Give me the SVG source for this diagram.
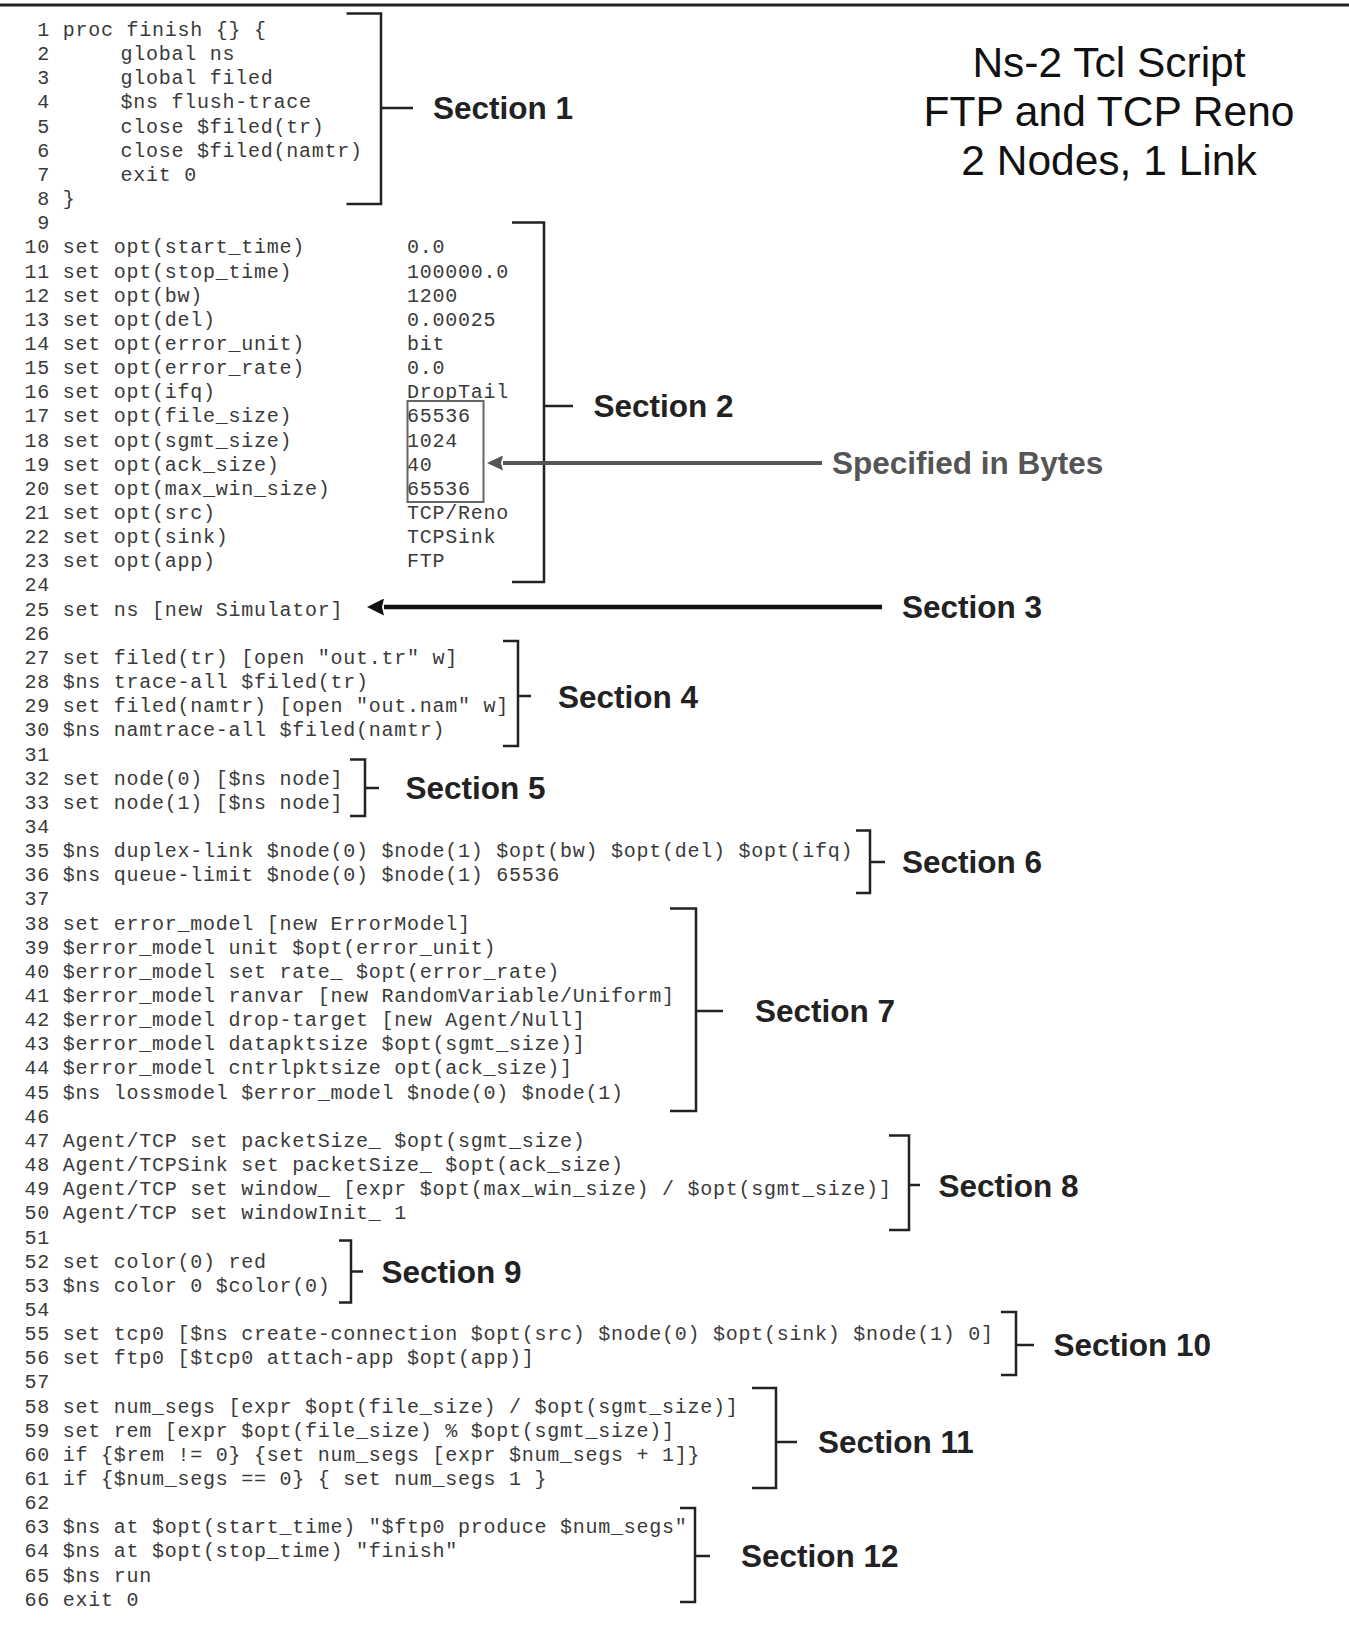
<svg xmlns="http://www.w3.org/2000/svg" width="1349" height="1631" viewBox="0 0 1349 1631">
<style>
.code{font-family:"Liberation Mono","Courier New",monospace;font-size:20px;letter-spacing:0.75px;fill:#3a3a3a}
.sec{font-family:"Liberation Sans",Arial,sans-serif;font-weight:bold;font-size:31.5px;fill:#222}
.title{font-family:"Liberation Sans",Arial,sans-serif;font-size:42.5px;fill:#111;text-anchor:middle}
.br{fill:none;stroke:#222;stroke-width:2.5}
</style>
<defs>
<marker id="headBlack" markerUnits="userSpaceOnUse" viewBox="0 0 17 17" refX="0" refY="8.5" markerWidth="17" markerHeight="17" orient="auto">
<path d="M0,0 L17,8.5 L0,17 L2,8.5 Z" fill="#111"/>
</marker>
<marker id="headGray" markerUnits="userSpaceOnUse" viewBox="0 0 16 15" refX="0" refY="7.5" markerWidth="16" markerHeight="15" orient="auto">
<path d="M0,0 L16,7.5 L0,15 L2,7.5 Z" fill="#555"/>
</marker>
</defs>
<rect width="1349" height="1631" fill="#fff"/>
<line x1="0" y1="5" x2="1349" y2="5" stroke="#222" stroke-width="3"/>

<g id="title">
<text class="title" x="1109" y="77">Ns-2 Tcl Script</text>
<text class="title" x="1109" y="126">FTP and TCP Reno</text>
<text class="title" x="1109" y="175">2 Nodes, 1 Link</text>
</g>

<g id="code" class="code">
<text x="37.25" y="36">1</text><text x="62.75" y="36">proc finish {} {</text>
<text x="37.25" y="60.15">2</text><text x="120.5" y="60.15">global ns</text>
<text x="37.25" y="84.3">3</text><text x="120.5" y="84.3">global filed</text>
<text x="37.25" y="108.45">4</text><text x="120.5" y="108.45">$ns flush-trace</text>
<text x="37.25" y="132.6">5</text><text x="120.5" y="132.6">close $filed(tr)</text>
<text x="37.25" y="156.75">6</text><text x="120.5" y="156.75">close $filed(namtr)</text>
<text x="37.25" y="180.9">7</text><text x="120.5" y="180.9">exit 0</text>
<text x="37.25" y="205.05">8</text><text x="62.75" y="205.05">}</text>
<text x="37.25" y="229.2">9</text>
<text x="24.5" y="253.35">10</text><text x="62.75" y="253.35">set opt(start_time)</text><text x="407" y="253.35">0.0</text>
<text x="24.5" y="277.5">11</text><text x="62.75" y="277.5">set opt(stop_time)</text><text x="407" y="277.5">100000.0</text>
<text x="24.5" y="301.65">12</text><text x="62.75" y="301.65">set opt(bw)</text><text x="407" y="301.65">1200</text>
<text x="24.5" y="325.8">13</text><text x="62.75" y="325.8">set opt(del)</text><text x="407" y="325.8">0.00025</text>
<text x="24.5" y="349.95">14</text><text x="62.75" y="349.95">set opt(error_unit)</text><text x="407" y="349.95">bit</text>
<text x="24.5" y="374.1">15</text><text x="62.75" y="374.1">set opt(error_rate)</text><text x="407" y="374.1">0.0</text>
<text x="24.5" y="398.25">16</text><text x="62.75" y="398.25">set opt(ifq)</text><text x="407" y="398.25">DropTail</text>
<text x="24.5" y="422.4">17</text><text x="62.75" y="422.4">set opt(file_size)</text><text x="407" y="422.4">65536</text>
<text x="24.5" y="446.55">18</text><text x="62.75" y="446.55">set opt(sgmt_size)</text><text x="407" y="446.55">1024</text>
<text x="24.5" y="470.7">19</text><text x="62.75" y="470.7">set opt(ack_size)</text><text x="407" y="470.7">40</text>
<text x="24.5" y="494.85">20</text><text x="62.75" y="494.85">set opt(max_win_size)</text><text x="407" y="494.85">65536</text>
<text x="24.5" y="519">21</text><text x="62.75" y="519">set opt(src)</text><text x="407" y="519">TCP/Reno</text>
<text x="24.5" y="543.15">22</text><text x="62.75" y="543.15">set opt(sink)</text><text x="407" y="543.15">TCPSink</text>
<text x="24.5" y="567.3">23</text><text x="62.75" y="567.3">set opt(app)</text><text x="407" y="567.3">FTP</text>
<text x="24.5" y="591.45">24</text>
<text x="24.5" y="615.6">25</text><text x="62.75" y="615.6">set ns [new Simulator]</text>
<text x="24.5" y="639.75">26</text>
<text x="24.5" y="663.9">27</text><text x="62.75" y="663.9">set filed(tr) [open "out.tr" w]</text>
<text x="24.5" y="688.05">28</text><text x="62.75" y="688.05">$ns trace-all $filed(tr)</text>
<text x="24.5" y="712.2">29</text><text x="62.75" y="712.2">set filed(namtr) [open "out.nam" w]</text>
<text x="24.5" y="736.35">30</text><text x="62.75" y="736.35">$ns namtrace-all $filed(namtr)</text>
<text x="24.5" y="760.5">31</text>
<text x="24.5" y="784.65">32</text><text x="62.75" y="784.65">set node(0) [$ns node]</text>
<text x="24.5" y="808.8">33</text><text x="62.75" y="808.8">set node(1) [$ns node]</text>
<text x="24.5" y="832.95">34</text>
<text x="24.5" y="857.1">35</text><text x="62.75" y="857.1">$ns duplex-link $node(0) $node(1) $opt(bw) $opt(del) $opt(ifq)</text>
<text x="24.5" y="881.25">36</text><text x="62.75" y="881.25">$ns queue-limit $node(0) $node(1) 65536</text>
<text x="24.5" y="905.4">37</text>
<text x="24.5" y="929.55">38</text><text x="62.75" y="929.55">set error_model [new ErrorModel]</text>
<text x="24.5" y="953.7">39</text><text x="62.75" y="953.7">$error_model unit $opt(error_unit)</text>
<text x="24.5" y="977.85">40</text><text x="62.75" y="977.85">$error_model set rate_ $opt(error_rate)</text>
<text x="24.5" y="1002">41</text><text x="62.75" y="1002">$error_model ranvar [new RandomVariable/Uniform]</text>
<text x="24.5" y="1026.15">42</text><text x="62.75" y="1026.15">$error_model drop-target [new Agent/Null]</text>
<text x="24.5" y="1050.3">43</text><text x="62.75" y="1050.3">$error_model datapktsize $opt(sgmt_size)]</text>
<text x="24.5" y="1074.45">44</text><text x="62.75" y="1074.45">$error_model cntrlpktsize opt(ack_size)]</text>
<text x="24.5" y="1098.6">45</text><text x="62.75" y="1098.6">$ns lossmodel $error_model $node(0) $node(1)</text>
<text x="24.5" y="1122.75">46</text>
<text x="24.5" y="1146.9">47</text><text x="62.75" y="1146.9">Agent/TCP set packetSize_ $opt(sgmt_size)</text>
<text x="24.5" y="1171.05">48</text><text x="62.75" y="1171.05">Agent/TCPSink set packetSize_ $opt(ack_size)</text>
<text x="24.5" y="1195.2">49</text><text x="62.75" y="1195.2">Agent/TCP set window_ [expr $opt(max_win_size) / $opt(sgmt_size)]</text>
<text x="24.5" y="1219.35">50</text><text x="62.75" y="1219.35">Agent/TCP set windowInit_ 1</text>
<text x="24.5" y="1243.5">51</text>
<text x="24.5" y="1267.65">52</text><text x="62.75" y="1267.65">set color(0) red</text>
<text x="24.5" y="1291.8">53</text><text x="62.75" y="1291.8">$ns color 0 $color(0)</text>
<text x="24.5" y="1315.95">54</text>
<text x="24.5" y="1340.1">55</text><text x="62.75" y="1340.1">set tcp0 [$ns create-connection $opt(src) $node(0) $opt(sink) $node(1) 0]</text>
<text x="24.5" y="1364.25">56</text><text x="62.75" y="1364.25">set ftp0 [$tcp0 attach-app $opt(app)]</text>
<text x="24.5" y="1388.4">57</text>
<text x="24.5" y="1412.55">58</text><text x="62.75" y="1412.55">set num_segs [expr $opt(file_size) / $opt(sgmt_size)]</text>
<text x="24.5" y="1436.7">59</text><text x="62.75" y="1436.7">set rem [expr $opt(file_size) % $opt(sgmt_size)]</text>
<text x="24.5" y="1460.85">60</text><text x="62.75" y="1460.85">if {$rem != 0} {set num_segs [expr $num_segs + 1]}</text>
<text x="24.5" y="1485">61</text><text x="62.75" y="1485">if {$num_segs == 0} { set num_segs 1 }</text>
<text x="24.5" y="1509.15">62</text>
<text x="24.5" y="1533.3">63</text><text x="62.75" y="1533.3">$ns at $opt(start_time) "$ftp0 produce $num_segs"</text>
<text x="24.5" y="1557.45">64</text><text x="62.75" y="1557.45">$ns at $opt(stop_time) "finish"</text>
<text x="24.5" y="1581.6">65</text><text x="62.75" y="1581.6">$ns run</text>
<text x="24.5" y="1605.75">66</text><text x="62.75" y="1605.75">exit 0</text>
</g>

<g id="bytes-box">
<rect x="407.5" y="401" width="76" height="101" fill="none" stroke="#666" stroke-width="2"/>
</g>

<g id="section1">
<path class="br" d="M346.5,13.5 H381 V204 H346.5 M381,108 H413"/>
<text class="sec" x="433" y="119">Section 1</text>
</g>
<g id="section2">
<path class="br" d="M512,222.5 H544 V582 H512 M544,406 H573"/>
<text class="sec" x="593.5" y="417">Section 2</text>
</g>
<g id="section3">
<text class="sec" x="902" y="618">Section 3</text>
</g>
<g id="specified">
<text class="sec" x="832" y="474" style="fill:#555">Specified in Bytes</text>
</g>
<g id="section4">
<path class="br" d="M503,641 H518 V746 H503 M518,696 H531"/>
<text class="sec" x="558" y="707.5">Section 4</text>
</g>
<g id="section5">
<path class="br" d="M350,759.5 H365 V816 H350 M365,788 H379"/>
<text class="sec" x="405.5" y="799">Section 5</text>
</g>
<g id="section6">
<path class="br" d="M856,830.5 H870 V893 H856 M870,862 H885"/>
<text class="sec" x="902" y="873">Section 6</text>
</g>
<g id="section7">
<path class="br" d="M670,908.5 H696 V1111 H670 M696,1011 H723"/>
<text class="sec" x="755" y="1022">Section 7</text>
</g>
<g id="section8">
<path class="br" d="M889,1135.5 H909 V1230 H889 M909,1185 H920"/>
<text class="sec" x="938.5" y="1197">Section 8</text>
</g>
<g id="section9">
<path class="br" d="M339,1240.5 H351 V1302.5 H339 M351,1271.5 H363"/>
<text class="sec" x="381.5" y="1283">Section 9</text>
</g>
<g id="section10">
<path class="br" d="M1001,1312 H1016 V1375 H1001 M1016,1345 H1034"/>
<text class="sec" x="1053.5" y="1356">Section 10</text>
</g>
<g id="section11">
<path class="br" d="M752,1388 H776 V1488 H752 M776,1442 H797"/>
<text class="sec" x="818" y="1453">Section 11</text>
</g>
<g id="section12">
<path class="br" d="M680,1508 H695 V1602 H680 M695,1556 H710"/>
<text class="sec" x="741" y="1567">Section 12</text>
</g>

<g id="connectors">
<line x1="882" y1="607" x2="384" y2="607" stroke="#111" stroke-width="4.5" marker-end="url(#headBlack)"/>
<line x1="822" y1="463" x2="503" y2="463" stroke="#555" stroke-width="4" marker-end="url(#headGray)"/>
</g>
</svg>
